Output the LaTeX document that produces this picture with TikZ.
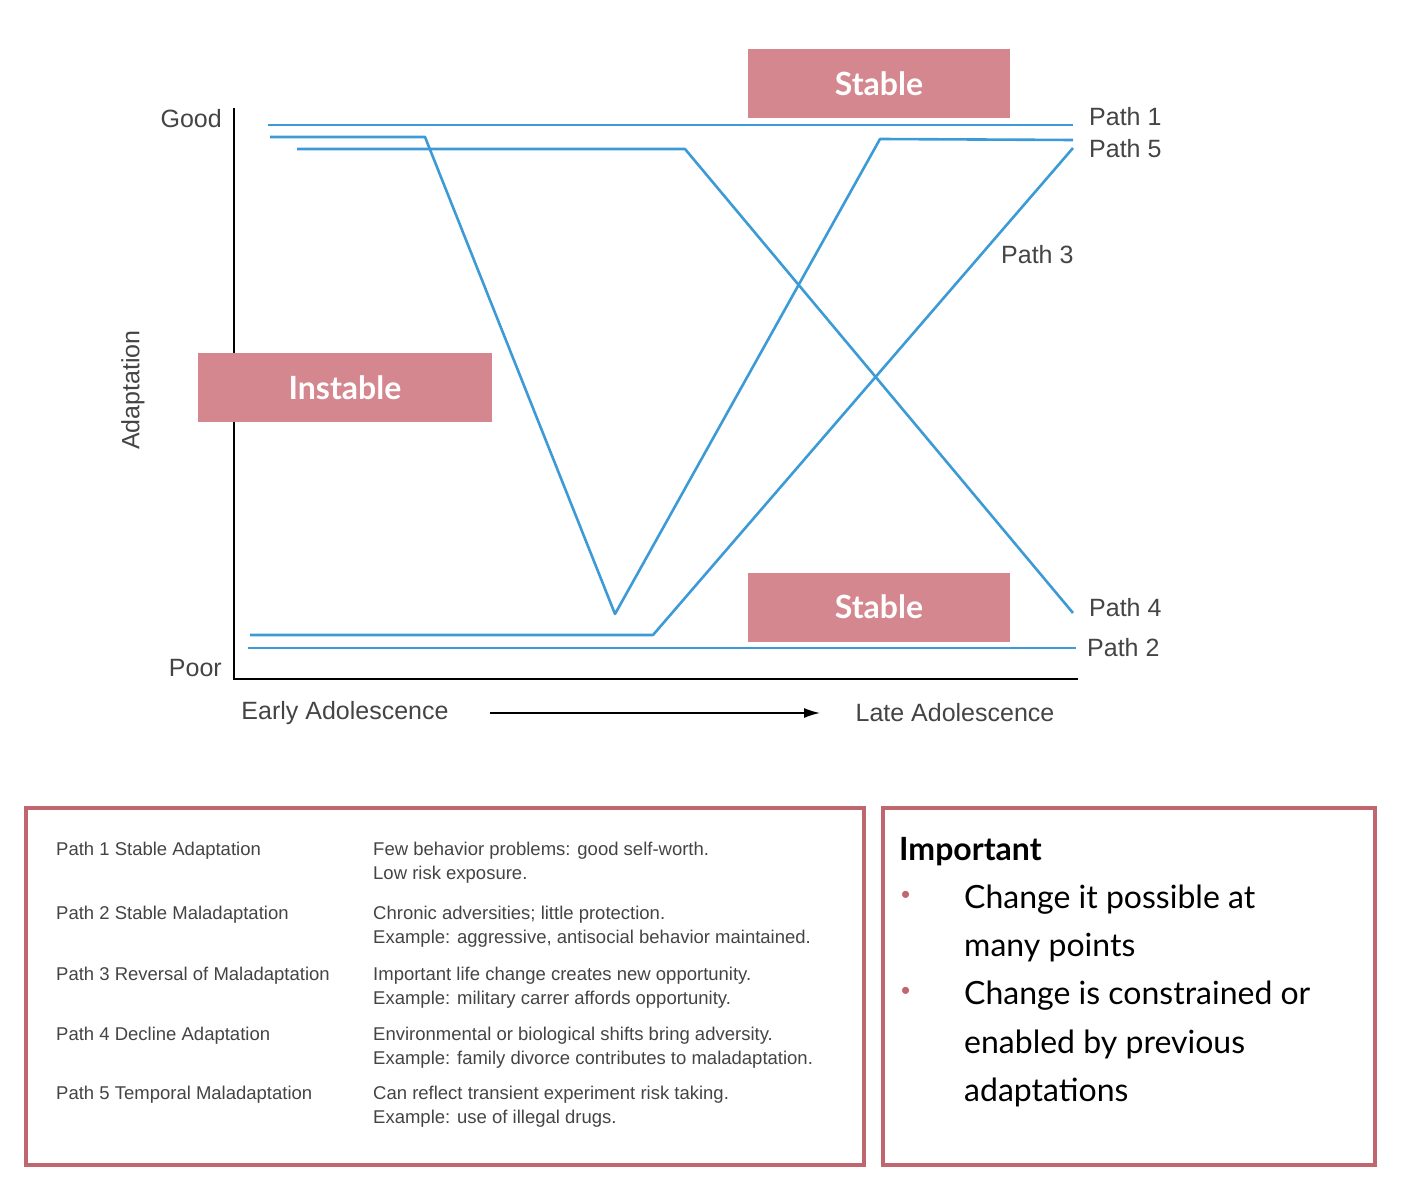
\documentclass[tikz,border=0pt]{standalone}
\usepackage{fontspec}
\setmainfont{Liberation Sans}
\newfontfamily\gill{Lato}
\usetikzlibrary{arrows.meta}
\definecolor{pblue}{HTML}{3C9AD6}
\definecolor{pink}{HTML}{D4878F}
\definecolor{frame}{HTML}{C0666F}
\definecolor{gtxt}{HTML}{444444}
\tikzset{
 pathline/.style={pblue,line width=2.6pt,line join=round},
 tag/.style={fill=pink,draw=none,text=white,font=\gill\bfseries\fontsize{32}{36}\selectfont},
 lbl/.style={text=gtxt,font=\fontsize{25}{28}\selectfont,inner sep=0pt},
 tbl/.style={text=gtxt,font=\fontsize{18.5}{23.5}\selectfont,inner sep=0pt,anchor=north west,align=left},
 imp/.style={font=\gill\fontsize{32}{48}\selectfont,inner sep=0pt,anchor=west},
 box/.style={draw=frame,line width=4.5pt}
}
\begin{document}
\begin{tikzpicture}[x=1pt,y=-1pt]
\useasboundingbox (0,0) rectangle (1412,1198);
% axes
\coordinate (ytop) at (234,108); \coordinate (org) at (234,679); \coordinate (xend) at (1078,679);
\draw[line width=2.6pt] (ytop) -- (org) -- (xend);
% paths
\draw[pathline] (268,125) coordinate(p1a) -- (1073,125) coordinate(p1b);
\draw[pathline] (270,137) -- (425,137) -- (615,614) -- (880,139) -- (1073,140);
\draw[pathline] (297,149) -- (685,149) -- (1073,613);
\draw[pathline] (250,635) -- (653,635) -- (1073,148);
\draw[pathline] (248,648) -- (1076,648);
% labels
\node[lbl,anchor=east] (good) at (222,119) {Good};
\node[lbl,anchor=east] (poor) at (222,668) {Poor};
\node[lbl,rotate=90] (adapt) at (133,390) {Adaptation};
\node[lbl] (early) at (345,713) {Early Adolescence};
\node[lbl] (late) at (955,713) {Late Adolescence};
\coordinate (ar1) at (490,713); \coordinate (ar2) at (820,713);
\draw[line width=1.6pt,-{Latex[length=16pt,width=10pt]}] (ar1) -- (ar2);
\node[lbl,anchor=west] (l1) at (1089,117) {Path 1};
\node[lbl,anchor=west] (l5) at (1089,149) {Path 5};
\node[lbl,anchor=west] (l3) at (1001,255) {Path 3};
\node[lbl,anchor=west] (l4) at (1089,608) {Path 4};
\node[lbl,anchor=west] (l2) at (1087,648) {Path 2};
% tags
\node[tag,minimum width=262pt,minimum height=69pt] (s1) at (879,83.5) {Stable};
\node[tag,minimum width=294pt,minimum height=69pt] (ins) at (345,387.5) {Instable};
\node[tag,minimum width=262pt,minimum height=69pt] (s2) at (879,607) {Stable};
% bottom boxes
\draw[box] (26,808) rectangle (864,1165);
\draw[box] (883,808) rectangle (1375,1165);
\node[tbl] (a1) at (56,842) {Path 1 Stable Adaptation};
\node[tbl] (b1) at (373,842) {Few behavior problems: good self-worth.\\Low risk exposure.};
\node[tbl] (a2) at (56,906) {Path 2 Stable Maladaptation};
\node[tbl] (b2) at (373,906) {Chronic adversities; little protection.\\Example: aggressive, antisocial behavior maintained.};
\node[tbl] (a3) at (56,967) {Path 3 Reversal of Maladaptation};
\node[tbl] (b3) at (373,967) {Important life change creates new opportunity.\\Example: military carrer affords opportunity.};
\node[tbl] (a4) at (56,1027) {Path 4 Decline Adaptation};
\node[tbl] (b4) at (373,1027) {Environmental or biological shifts bring adversity.\\Example: family divorce contributes to maladaptation.};
\node[tbl] (a5) at (56,1086) {Path 5 Temporal Maladaptation};
\node[tbl] (b5) at (373,1086) {Can reflect transient experiment risk taking.\\Example: use of illegal drugs.};
% important
\node[imp,font=\gill\bfseries\fontsize{32}{40}\selectfont] (impt) at (899,852) {Important};
\node[imp,text=frame,font=\fontsize{26}{30}\selectfont] (bu1) at (901,897) {•};
\node[imp,text=frame,font=\fontsize{26}{30}\selectfont] (bu2) at (901,993) {•};
\node[imp] (t1) at (964,900) {Change it possible at};
\node[imp] (t2) at (964,948) {many points};
\node[imp] (t3) at (964,996) {Change is constrained or};
\node[imp] (t4) at (964,1044) {enabled by previous};
\node[imp] (t5) at (964,1092) {adaptations};
\end{tikzpicture}
\end{document}
